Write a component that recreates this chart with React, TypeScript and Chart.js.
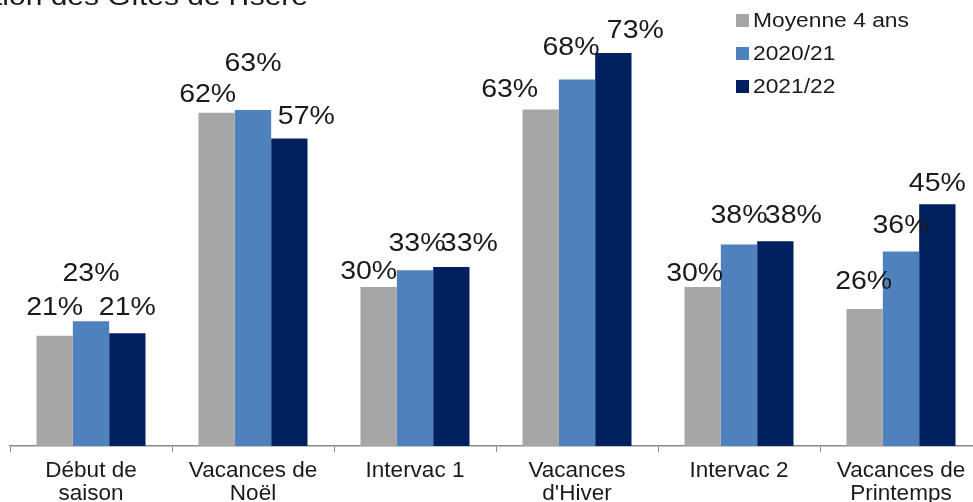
import React, { useEffect, useRef } from "react";
import { Chart, registerables } from "chart.js";

Chart.register(...registerables);

const titleText = "Taux d'occupation des Gîtes de l'Isère";
const categories: (string | string[])[] = [
  ["Début de", "saison"],
  ["Vacances de", "Noël"],
  "Intervac 1",
  ["Vacances", "d'Hiver"],
  "Intervac 2",
  ["Vacances de", "Printemps"],
];
const seriesNames = ["Moyenne 4 ans", "2020/21", "2021/22"];
const moyenne4ans = [20.5, 62.0, 29.6, 62.6, 29.6, 25.5];
const saison2021 = [23.2, 62.5, 32.7, 68.2, 37.5, 36.2];
const saison2122 = [21.0, 57.2, 33.3, 73.1, 38.1, 45.0];

// style: manual label shifts (as in the original layout)
const labelDx = [
  [0, -9, -10, -31, -8, -1],
  [0, 0, 2, -6, 0, 0],
  [0, 17, 18, 22, 18, 0],
];
const labelDy = [
  [-28, -18, -15, -19, -13, -27],
  [-47, -46, -26.5, -31.5, -28, -25],
  [-25, -21, -23, -22, -25, -20],
];
const colors = ["#A6A6A6", "#4F81BD", "#002060"];
const FONT = "'Liberation Sans', Arial, sans-serif";
const STRETCH = 1.14;

function stretchedText(ctx: CanvasRenderingContext2D, text: string, x: number, y: number) {
  ctx.save();
  ctx.translate(x, y);
  ctx.scale(STRETCH, 1);
  ctx.fillText(text, 0, 0);
  ctx.restore();
}

const overlayPlugin = {
  id: "overlay",
  afterDatasetsDraw(chart: any) {
    const ctx = chart.ctx;
    ctx.save();
    // data labels
    ctx.font = `25px ${FONT}`;
    ctx.fillStyle = "#1a1a1a";
    ctx.textAlign = "center";
    ctx.textBaseline = "middle";
    chart.data.datasets.forEach((ds: any, di: number) => {
      const meta = chart.getDatasetMeta(di);
      meta.data.forEach((el: any, i: number) => {
        const v = ds.data[i];
        stretchedText(ctx, Math.round(v) + "%", el.x + labelDx[di][i], el.y + labelDy[di][i]);
      });
    });
    // title (cropped at top)
    ctx.font = `26.3px ${FONT}`;
    ctx.textAlign = "right";
    ctx.textBaseline = "alphabetic";
    ctx.fillStyle = "#1a1a1a";
    stretchedText(ctx, titleText, 308, 5);
    // legend
    ctx.font = `20px ${FONT}`;
    ctx.textAlign = "left";
    ctx.textBaseline = "middle";
    const rowsY = [20, 53, 86];
    chart.data.datasets.forEach((ds: any, di: number) => {
      ctx.fillStyle = ds.backgroundColor;
      ctx.fillRect(736, rowsY[di] - 6, 13, 13);
      ctx.fillStyle = "#1a1a1a";
      stretchedText(ctx, ds.label, 753, rowsY[di] + 1);
    });
    ctx.restore();
  },
};

export default function App() {
  const ref = useRef<HTMLCanvasElement>(null);
  useEffect(() => {
    if (!ref.current) return;
    const chart = new Chart(ref.current, {
      type: "bar",
      data: {
        labels: categories,
        datasets: [moyenne4ans, saison2021, saison2122].map((d, i) => ({
          label: seriesNames[i],
          data: d,
          backgroundColor: colors[i],
          borderWidth: 0,
          categoryPercentage: 0.673,
          barPercentage: 1,
        })),
      },
      options: {
        responsive: false,
        animation: false,
        layout: { padding: { left: 10, right: 8, top: 16, bottom: 0 } },
        plugins: {
          legend: { display: false },
          title: { display: false },
          tooltip: { enabled: false },
        },
        scales: {
          y: { display: false, min: 0, max: 80 },
          x: {
            afterFit: (scale: any) => {
              scale.height = 56;
            },
            grid: {
              offset: true,
              drawOnChartArea: false,
              drawTicks: true,
              tickLength: 6,
              color: "#8a8a8a",
            },
            border: { color: "#8a8a8a", width: 1.5 },
            ticks: {
              color: "#1a1a1a",
              padding: 7,
              maxRotation: 0,
              autoSkip: false,
              font: { family: FONT, size: 22.5, lineHeight: 1.03 },
            },
          },
        },
      },
      plugins: [overlayPlugin],
    });
    return () => chart.destroy();
  }, []);
  return (
    <div style={{ position: "fixed", left: 0, top: 0, width: 990, height: 502, background: "#fff" }}>
      <canvas ref={ref} width={990} height={502} style={{ display: "block" }} />
    </div>
  );
}
